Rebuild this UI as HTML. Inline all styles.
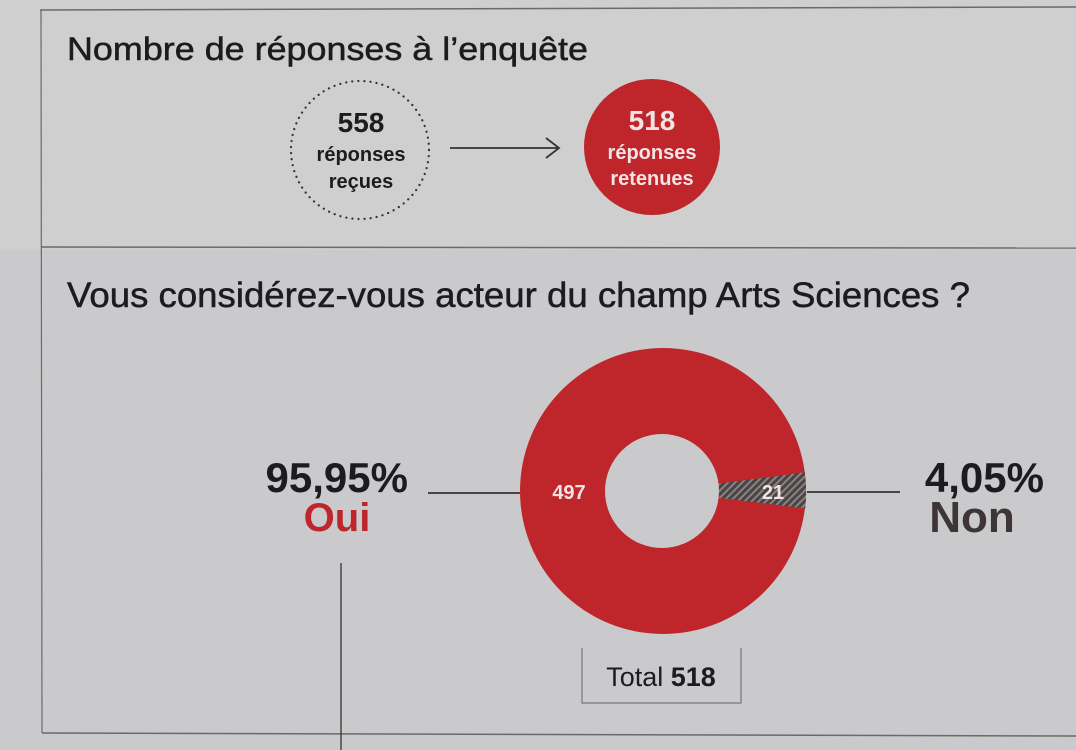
<!DOCTYPE html>
<html><head><meta charset="utf-8"><style>
html,body{margin:0;padding:0;background:#cbcbcd;}
svg{display:block}
text{font-family:"Liberation Sans",sans-serif;}
</style></head><body>
<svg width="1076" height="750" viewBox="0 0 1076 750" xmlns="http://www.w3.org/2000/svg">
<defs>
<pattern id="h" width="5" height="5" patternUnits="userSpaceOnUse" patternTransform="rotate(45)">
<rect width="5" height="5" fill="#4a4445"/><rect width="2" height="5" fill="#8a8283"/>
</pattern>
</defs>
<rect width="1076" height="750" fill="#cacacc"/>
<rect x="0" y="0" width="1076" height="250" fill="#cfcfd0"/>
<line x1="40" y1="10" x2="1076" y2="7" stroke="#6a6a6a" stroke-width="1.5"/>
<line x1="41" y1="10" x2="42" y2="733" stroke="#6a6a6a" stroke-width="1.2"/>
<line x1="41" y1="247" x2="1076" y2="248" stroke="#6a6a6a" stroke-width="1.5"/>
<line x1="42" y1="733" x2="1076" y2="736" stroke="#6a6a6a" stroke-width="1.5"/>
<text x="67" y="60" font-size="32" fill="#1c1c1e" stroke="#1c1c1e" stroke-width="0.5" textLength="521" lengthAdjust="spacingAndGlyphs">Nombre de réponses à l’enquête</text>
<circle cx="360" cy="150" r="69" fill="none" stroke="#333" stroke-width="2.2" stroke-dasharray="0.1 6" stroke-linecap="round"/>
<text x="361" y="132" font-size="28" font-weight="bold" fill="#1c1c1e" text-anchor="middle">558</text>
<text x="361" y="161" font-size="20" font-weight="bold" fill="#1c1c1e" text-anchor="middle">réponses</text>
<text x="361" y="188" font-size="20" font-weight="bold" fill="#1c1c1e" text-anchor="middle">reçues</text>
<line x1="450" y1="148" x2="558" y2="148" stroke="#333" stroke-width="1.8"/>
<polyline points="546,138 559,148 546,158" fill="none" stroke="#333" stroke-width="1.8"/>
<circle cx="652" cy="147" r="68" fill="#bf262b"/>
<text x="652" y="130" font-size="28" font-weight="bold" fill="#f2e4e4" text-anchor="middle">518</text>
<text x="652" y="159" font-size="20" font-weight="bold" fill="#f2e4e4" text-anchor="middle">réponses</text>
<text x="652" y="185" font-size="20" font-weight="bold" fill="#f2e4e4" text-anchor="middle">retenues</text>
<text x="67" y="307" font-size="35" fill="#1c1c1e" stroke="#1c1c1e" stroke-width="0.5" textLength="903" lengthAdjust="spacingAndGlyphs">Vous considérez-vous acteur du champ Arts Sciences ?</text>
<circle cx="663" cy="491" r="143" fill="#bf262b"/>
<path d="M 663 491 L 804.8 472.3 A 143 143 0 0 1 805.2 508.4 Z" fill="url(#h)"/>
<circle cx="662" cy="491" r="57" fill="#cacacc"/>
<text x="569" y="499" font-size="20" font-weight="bold" fill="#f2e4e4" text-anchor="middle">497</text>
<text x="773" y="499" font-size="20" font-weight="bold" fill="#f2e4e4" text-anchor="middle">21</text>
<line x1="428" y1="493" x2="520" y2="493" stroke="#333" stroke-width="1.8"/>
<line x1="807" y1="492" x2="900" y2="492" stroke="#333" stroke-width="1.8"/>
<text x="408" y="492" font-size="42" font-weight="bold" fill="#1c1c1e" text-anchor="end">95,95%</text>
<text x="337" y="531" font-size="40" font-weight="bold" fill="#bf262b" text-anchor="middle">Oui</text>
<text x="1044" y="492" font-size="42" font-weight="bold" fill="#1c1c1e" text-anchor="end">4,05%</text>
<text x="972" y="532" font-size="44" font-weight="bold" fill="#3d3536" text-anchor="middle">Non</text>
<line x1="341" y1="563" x2="341" y2="750" stroke="#333" stroke-width="1.3"/>
<polyline points="582,648 582,703 741,703 741,648" fill="none" stroke="#777" stroke-width="1.2"/>
<text x="661" y="686" font-size="27" fill="#1c1c1e" text-anchor="middle">Total <tspan font-weight="bold">518</tspan></text>
</svg>
</body></html>
